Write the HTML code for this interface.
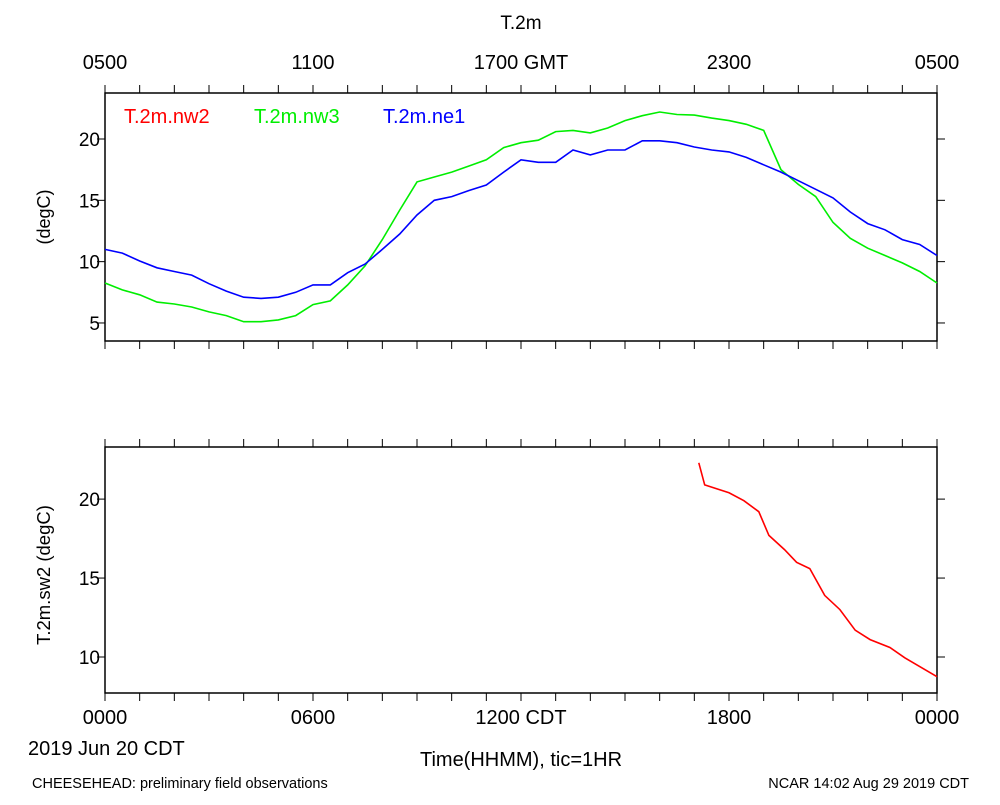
<!DOCTYPE html>
<html><head><meta charset="utf-8"><style>
body{margin:0;background:#fff}
svg text{font-family:"Liberation Sans",sans-serif}
</style></head><body>
<svg id="c" width="1000" height="800" xmlns="http://www.w3.org/2000/svg">
<text x="521" y="29" font-size="19" text-anchor="middle">T.2m</text>
<g id="top"></g>
<g id="bot"></g>
<text transform="translate(50,217) rotate(-90)" font-size="18" text-anchor="middle">(degC)</text>
<text transform="translate(50,575) rotate(-90)" font-size="18.5" text-anchor="middle">T.2m.sw2 (degC)</text>
<text x="28" y="755" font-size="20">2019 Jun 20 CDT</text>
<text x="521" y="766" font-size="20" text-anchor="middle">Time(HHMM), tic=1HR</text>
<text x="32" y="788" font-size="14.5">CHEESEHEAD: preliminary field observations</text>
<text x="969" y="788" font-size="14.5" text-anchor="end">NCAR 14:02 Aug 29 2019 CDT</text>
<text x="124" y="123" font-size="20" fill="#ff0000">T.2m.nw2</text>
<text x="254" y="123" font-size="20" fill="#00ee00">T.2m.nw3</text>
<text x="383" y="123" font-size="20" fill="#0000ff">T.2m.ne1</text>
</svg>
<script>
const hours=[0,0.5,1,1.5,2,2.5,3,3.5,4,4.5,5,5.5,6,6.5,7,7.5,8,8.5,9,9.5,10,10.5,11,11.5,12,12.5,13,13.5,14,14.5,15,15.5,16,16.5,17,17.5,18,18.5,19,19.5,20,20.5,21,21.5,22,22.5,23,23.5,24];
const nw3=[8.26,7.7,7.3,6.7,6.55,6.3,5.9,5.6,5.1,5.1,5.25,5.6,6.5,6.8,8.1,9.65,11.8,14.2,16.5,16.9,17.3,17.8,18.3,19.3,19.7,19.9,20.6,20.7,20.5,20.9,21.5,21.9,22.2,22.0,21.95,21.7,21.5,21.2,20.7,17.5,16.3,15.3,13.2,11.9,11.1,10.5,9.9,9.2,8.26];
const ne1=[11.0,10.7,10.05,9.5,9.2,8.9,8.2,7.6,7.1,7.0,7.1,7.5,8.1,8.1,9.1,9.8,11.0,12.25,13.8,15.0,15.3,15.8,16.25,17.3,18.3,18.1,18.1,19.1,18.7,19.1,19.1,19.85,19.85,19.7,19.35,19.1,18.95,18.5,17.9,17.3,16.6,15.9,15.2,14.05,13.1,12.6,11.8,11.4,10.5];
const sw2Hours=[17.13,17.3,18,18.43,18.86,19.15,19.6,19.95,20.33,20.76,21.2,21.64,22.07,22.64,23.07,24];
const sw2=[22.3,20.9,20.4,19.9,19.2,17.7,16.8,16.0,15.6,13.9,13.0,11.7,11.1,10.6,9.95,8.75];
const topTicksY=[5,10,15,20];
const botTicksY=[10,15,20];
const topXLabels=["0500","1100","1700 GMT","2300","0500"];
const botXLabels=["0000","0600","1200 CDT","1800","0000"];
const NS="http://www.w3.org/2000/svg";
const X0=105,X1=937;
const xs=h=>X0+(X1-X0)*h/24;
function mk(p,t,a){const e=document.createElementNS(NS,t);for(const k in a)e.setAttribute(k,a[k]);p.appendChild(e);return e;}
function panel(g,y0,y1,vmin,vmax,ticks,xl,labY,pref){
  const ys=v=>y1-(v-vmin)/(vmax-vmin)*(y1-y0);
  const r=mk(g,'rect',{x:X0,y:y0,width:X1-X0,height:y1-y0,fill:'none',stroke:'#000','stroke-width':1.5});
  
  
  for(let h=0;h<=24;h++){
    const x=xs(h);
    const t1=mk(g,'line',{x1:x,x2:x,y1:y0-8,y2:y0,stroke:'#000','stroke-width':1});
    
    
    const t2=mk(g,'line',{x1:x,x2:x,y1:y1,y2:y1+8,stroke:'#000','stroke-width':1});
    
    
  }
  xl.forEach((s,i)=>{
    const t=mk(g,'text',{x:xs(i*6),y:labY,'font-size':20,'text-anchor':'middle'});t.textContent=s;
    
    
  });
  ticks.forEach(v=>{
    const y=ys(v);
    const a=mk(g,'line',{x1:X0-8,x2:X0,y1:y,y2:y,stroke:'#000'});
    
    
    const b=mk(g,'line',{x1:X1,x2:X1+8,y1:y,y2:y,stroke:'#000'});
    
    
    const t=mk(g,'text',{x:X0-5,y:y+7,'font-size':19,'text-anchor':'end'});t.textContent=v;
    
    
  });
  return ys;
}
function line(g,hs,vs,ys,col,name){
  const p=mk(g,'path',{d:hs.map((h,i)=>(i?'L':'M')+xs(h).toFixed(1)+','+ys(vs[i]).toFixed(1)).join(''),fill:'none',stroke:col,'stroke-width':1.6});
  
  
}
const tg=document.getElementById('top'),bg=document.getElementById('bot');
const ysT=panel(tg,93,341,3.53,23.75,topTicksY,topXLabels,69,'top');
line(tg,hours,nw3,ysT,'#00ee00','line-nw3');
line(tg,hours,ne1,ysT,'#0000ff','line-ne1');
const ysB=panel(bg,447,693,7.72,23.3,botTicksY,botXLabels,724,'bottom');
line(bg,sw2Hours,sw2,ysB,'#ff0000','line-sw2');
</script>
</body></html>
